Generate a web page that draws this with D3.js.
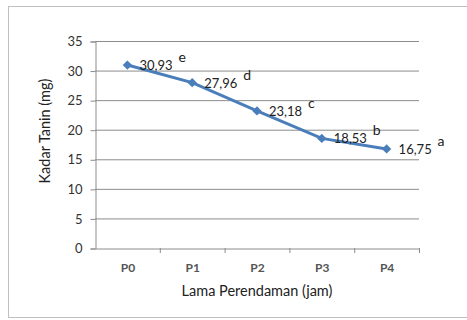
<!DOCTYPE html>
<html><head><meta charset="utf-8">
<script src="https://cdn.jsdelivr.net/npm/d3@7"></script>
<style>body{margin:0;background:#fff}svg{display:block}text{font-family:Lato,"Open Sans",sans-serif}</style>
</head><body><svg id="c" width="467" height="320"></svg>
<script>
const categories = ["P0","P1","P2","P3","P4"];
const values = [30.93, 27.96, 23.18, 18.53, 16.75];
const valueLabels = ["30,93","27,96","23,18","18,53","16,75"];
const letters = ["e","d","c","b","a"];
const yTicks = [0,5,10,15,20,25,30,35];

const svg = d3.select("#c");
const m = {l:95, r:419, t:41, b:248};
svg.append("rect").attr("x",8.5).attr("y",6.5).attr("width",470).attr("height",311)
  .attr("fill","#fff").attr("stroke","#c0c0c0");

const x = d3.scaleBand().domain(categories).range([m.l, m.r]);
const y = d3.scaleLinear().domain([0,35]).range([m.b, m.t]);

// grid
svg.append("g").selectAll("line").data(yTicks.filter(d=>d>0)).join("line")
  .attr("x1",m.l).attr("x2",m.r).attr("y1",d=>y(d)+0.5).attr("y2",d=>y(d)+0.5)
  .attr("stroke","#8c8c8c").attr("stroke-width",1);

const ya = svg.append("g").attr("transform",`translate(${m.l+0.5},0.5)`)
  .call(d3.axisLeft(y).tickValues(yTicks).tickSize(5).tickPadding(8));
const xa = svg.append("g").attr("transform",`translate(0.5,${m.b+0.5})`)
  .call(d3.axisBottom(x).tickSize(0).tickPadding(15));
[ya,xa].forEach(a=>{a.select(".domain").attr("stroke","#8c8c8c");
  a.selectAll("line").attr("stroke","#8c8c8c");
  a.selectAll("text").attr("font-size",13).attr("fill","#333").attr("font-family","Lato,sans-serif");});
xa.selectAll("text").attr("fill","#555").attr("font-weight","bold").attr("font-size",12);
// category tick marks at band edges
svg.append("g").selectAll("line").data(categories).join("line")
  .attr("x1",d=>x(d)+x.bandwidth()+0.5).attr("x2",d=>x(d)+x.bandwidth()+0.5)
  .attr("y1",m.b).attr("y2",m.b+5).attr("stroke","#8c8c8c");

const cx = d=>x(d)+x.bandwidth()/2;
const line = d3.line().x((d,i)=>cx(categories[i])).y(d=>y(d));
svg.append("path").datum(values).attr("d",line).attr("fill","none")
  .attr("stroke","#4a7ebb").attr("stroke-width",3);
svg.append("g").selectAll("path").data(values).join("path")
  .attr("d",d3.symbol(d3.symbolDiamond2,56)())
  .attr("transform",(d,i)=>`translate(${cx(categories[i])},${y(d)})`)
  .attr("fill","#4a7ebb");

svg.append("g").selectAll("text").data(values).join("text")
  .attr("x",(d,i)=>cx(categories[i])+12).attr("y",(d)=>y(d)+5)
  .attr("font-size",13).attr("fill","#222").text((d,i)=>valueLabels[i]);
svg.append("g").selectAll("text").data(values).join("text")
  .attr("x",(d,i)=>cx(categories[i])+51).attr("y",(d)=>y(d)-3)
  .attr("font-size",14).attr("fill","#222").text((d,i)=>letters[i]);

svg.append("text").attr("x",257).attr("y",296).attr("text-anchor","middle")
  .attr("font-size",14.5).attr("fill","#222").text("Lama Perendaman (jam)");
svg.append("text").attr("transform",`translate(50,131) rotate(-90)`)
  .attr("text-anchor","middle").attr("font-size",14.5).attr("fill","#222").text("Kadar Tanin (mg)");
</script></body></html>
